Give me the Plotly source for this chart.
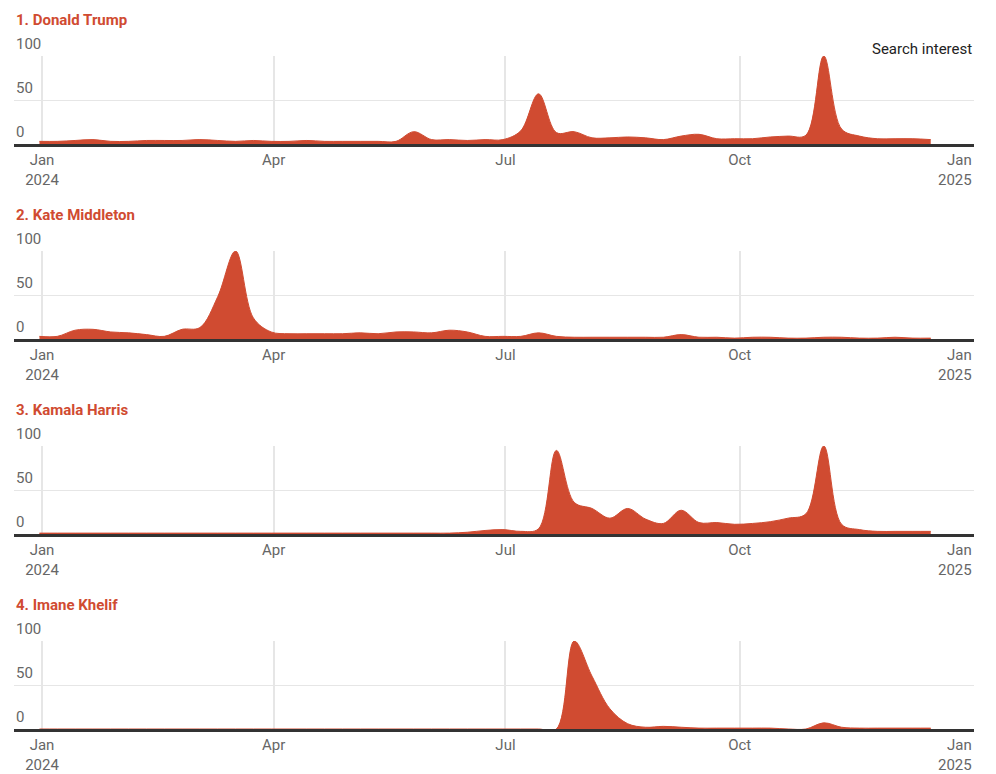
import pandas as pd
import plotly.graph_objects as go

# weekly search interest, 2023-12-31 .. 2024-12-15
weeks = pd.date_range("2023-12-31", periods=51, freq="7D")

names = ["1. Donald Trump", "2. Kate Middleton", "3. Kamala Harris", "4. Imane Khelif"]

trump = [3, 3, 4, 5, 3, 3, 4, 4, 4, 5, 4, 3, 4, 3, 3, 4, 3, 3, 3, 3,
         3, 14, 5, 5, 4, 5, 5, 15, 57, 13, 14, 7, 7, 8, 7, 5, 9, 11, 6, 6,
         6, 8, 9, 10, 100, 17, 9, 6, 6, 6, 5]
kate = [3, 3, 10, 11, 8, 7, 5, 3, 11, 13, 48, 100, 24, 8, 6, 6, 6, 6, 7, 6,
        8, 8, 7, 10, 8, 3, 3, 3, 7, 3, 2, 2, 2, 2, 2, 2, 5, 2, 2, 1,
        2, 2, 1, 1, 2, 2, 1, 1, 2, 1, 1]
kamala = [1, 1, 1, 1, 1, 1, 1, 1, 1, 1, 1, 1, 1, 1, 1, 1, 1, 1, 1, 1,
          1, 1, 1, 1, 2, 4, 5, 3, 6, 95, 36, 29, 18, 29, 17, 12, 27, 13, 13, 11,
          12, 14, 18, 23, 100, 11, 5, 3, 3, 3, 3]
imane = [0, 0, 0, 0, 0, 0, 0, 0, 0, 0, 0, 0, 0, 0, 0, 0, 0, 0, 0, 0,
         0, 0, 0, 0, 0, 0, 0, 0, 0, 0, 100, 60, 23, 6, 2, 3, 2, 1, 1, 1,
         1, 1, 0, 0, 7, 2, 1, 1, 1, 1, 1]
series = [trump, kate, kamala, imane]

tick_dates = ["2024-01-01", "2024-04-01", "2024-07-01", "2024-10-01", "2025-01-01"]
tick_text = ["Jan<br>2024", "Apr", "Jul", "Oct", ""]
y_ticks = [0, 50, 100]

RED = "#d04b31"
GRID = "#e6e6e6"
PAGE = 8                      # the page puts the plot div 8px in from the corner
W, H = 996, 774


def px(x):
    return (x - PAGE) / W


def py(y):
    return 1 - (y - PAGE) / H


left, right = 14, 974
baselines = [144, 339, 534, 729]
plot_h = 88

fig = go.Figure()
layout = dict(width=W, height=H, margin=dict(l=0, r=0, t=0, b=0),
              paper_bgcolor="white", plot_bgcolor="white", showlegend=False,
              font=dict(family="Roboto", size=15, color="#666"))
annotations = []

for i, (name, vals) in enumerate(zip(names, series)):
    n = "" if i == 0 else str(i + 1)
    fig.add_trace(go.Scatter(x=weeks, y=vals, mode="lines",
                             line=dict(shape="spline", color=RED, width=1),
                             fill="tozeroy", fillcolor=RED,
                             xaxis="x" + n, yaxis="y" + n, hoverinfo="skip"))
    b = baselines[i]
    layout["xaxis" + n] = dict(
        domain=[px(left), px(right)], anchor="y" + n,
        range=["2023-12-21", "2025-01-01"], type="date",
        tickvals=tick_dates, ticktext=tick_text, ticks="",
        showgrid=True, gridcolor=GRID, gridwidth=1.5,
        showline=True, linecolor="#333", linewidth=3, zeroline=False,
        tickfont=dict(size=15, color="#666"), fixedrange=True)
    layout["yaxis" + n] = dict(
        domain=[py(b), py(b - plot_h)], anchor="x" + n,
        range=[0, 100], tickvals=y_ticks, showticklabels=False, ticks="",
        showgrid=True, gridcolor=GRID, zeroline=False, showline=False,
        fixedrange=True)
    # y tick labels sit above their gridlines, at the left edge
    for v in y_ticks:
        annotations.append(dict(text=str(v), x=px(left), y=v,
                                xref="paper", yref="y" + n,
                                xanchor="left", yanchor="bottom", yshift=1,
                                showarrow=False, font=dict(size=15, color="#666")))
    annotations.append(dict(text="<b>" + name + "</b>", x=px(left), y=py(b - 124),
                            xref="paper", yref="paper", xanchor="left", yanchor="middle",
                            showarrow=False, font=dict(size=15, color=RED)))
    annotations.append(dict(text="Jan<br>2025", x=px(right), y=py(b),
                            xref="paper", yref="paper", xanchor="right", yanchor="top",
                            yshift=-5, align="right", showarrow=False,
                            font=dict(size=15, color="#666")))

annotations.append(dict(text="Search interest", x=px(right), y=py(49),
                        xref="paper", yref="paper", xanchor="right", yanchor="middle",
                        showarrow=False, font=dict(size=15, color="#222")))
layout["annotations"] = annotations
fig.update_layout(**layout)

fig.write_html("out.html")
